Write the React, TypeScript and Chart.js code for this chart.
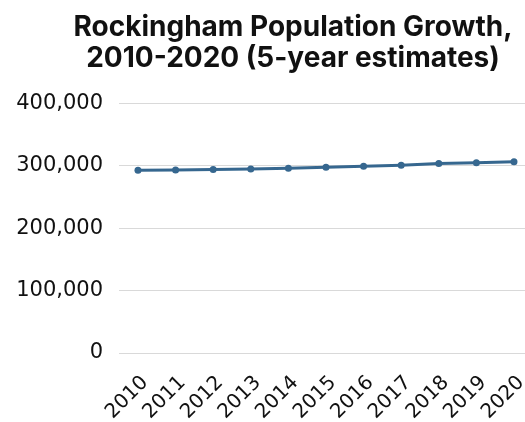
import React, { useEffect, useRef } from "react";
import { Chart, registerables } from "chart.js";

Chart.register(...registerables);

const years = [2010, 2011, 2012, 2013, 2014, 2015, 2016, 2017, 2018, 2019, 2020];
const population = [293300, 293700, 294200, 295300, 296500, 298100, 299700, 301300, 303900, 305000, 306600];
const titleLines = ["Rockingham Population Growth,", "2010-2020 (5-year estimates)"];

const shiftTitle = {
  id: "shiftTitle",
  afterLayout(chart: any) {
    const t = chart.titleBlock;
    if (t) {
      t.left = 61;
    }
  },
};

export default function App() {
  const ref = useRef<HTMLCanvasElement | null>(null);
  useEffect(() => {
    if (!ref.current) return;
    const chart = new Chart(ref.current, {
      type: "line",
      data: {
        datasets: [
          {
            data: years.map((y, i) => ({ x: y, y: population[i] })),
            borderColor: "#36678f",
            backgroundColor: "#36678f",
            borderWidth: 3,
            pointRadius: 3.5,
            pointBackgroundColor: "#36678f",
            pointBorderWidth: 0,
            tension: 0,
          },
        ],
      },
      plugins: [shiftTitle],
      options: {
        animation: false,
        responsive: false,
        layout: { autoPadding: false, padding: { left: 0, right: 0, top: 0, bottom: 0 } },
        plugins: {
          legend: { display: false },
          tooltip: { enabled: false },
          title: {
            display: true,
            text: titleLines,
            color: "#111111",
            font: { family: "Inter", size: 28, weight: "bold", lineHeight: 1.1 },
            padding: { top: 12, bottom: 30 },
          },
        },
        scales: {
          x: {
            type: "linear",
            min: 2009.495,
            max: 2020.293,
            afterFit: (s: any) => {
              s.height = 69;
              s.paddingLeft = 0;
              s.paddingRight = 0;
            },
            grid: { display: false },
            border: { display: false },
            ticks: {
              stepSize: 1,
              includeBounds: false,
              minRotation: 45,
              maxRotation: 45,
              autoSkip: false,
              padding: 10,
              labelOffset: 7,
              color: "#111111",
              font: { family: "DejaVu Sans", size: 20 },
              callback: (v: any) => String(v),
            },
          },
          y: {
            min: 0,
            max: 400000,
            afterFit: (s: any) => {
              s.width = 119;
            },
            grid: { color: "#d9d9d9", lineWidth: 1, drawTicks: false },
            border: { display: false },
            ticks: {
              stepSize: 100000,
              padding: 16,
              color: "#111111",
              font: { family: "DejaVu Sans", size: 21 },
            },
          },
        },
      },
    });
    return () => chart.destroy();
  }, []);
  return (
    <div style={{ position: "fixed", left: 0, top: 0, width: 525, height: 422, background: "#fff" }}>
      <canvas ref={ref} width={525} height={422} />
    </div>
  );
}
